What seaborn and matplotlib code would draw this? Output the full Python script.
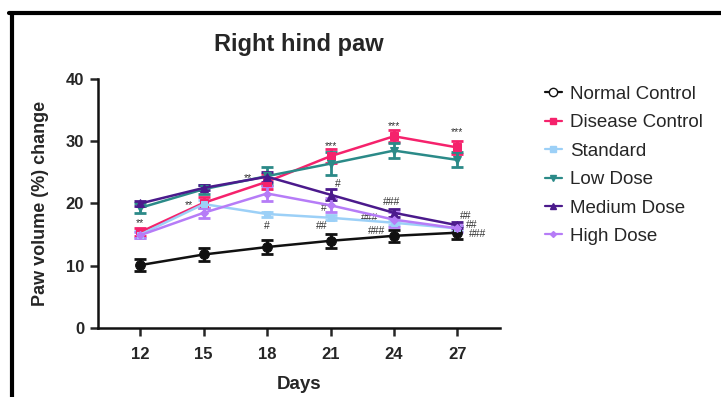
import matplotlib
matplotlib.use("Agg")
import matplotlib.pyplot as plt
import seaborn as sns
import pandas as pd
from matplotlib.lines import Line2D

days = [12, 15, 18, 21, 24, 27]
groups = ["Normal Control", "Disease Control", "Standard", "Low Dose", "Medium Dose", "High Dose"]
normal_control = [10.1, 11.8, 13.0, 14.0, 14.8, 15.3]
disease_control = [15.4, 20.1, 23.5, 27.6, 30.8, 29.0]
standard = [15.0, 19.9, 18.3, 17.7, 16.9, 16.0]
low_dose = [19.3, 22.3, 24.4, 26.4, 28.5, 27.0]
medium_dose = [20.0, 22.5, 24.3, 21.4, 18.5, 16.5]
high_dose = [14.9, 18.5, 21.6, 19.7, 17.4, 16.0]
normal_err = [0.9, 1.1, 1.2, 1.1, 1.0, 1.0]
disease_err = [0.7, 0.9, 1.2, 1.1, 1.0, 1.0]
standard_err = [0.5, 0.6, 0.4, 0.4, 0.4, 0.4]
low_err = [0.8, 0.7, 1.4, 1.8, 1.2, 1.2]
medium_err = [0.4, 0.4, 0.8, 0.9, 0.6, 0.5]
high_err = [0.5, 0.8, 1.2, 1.1, 1.2, 0.6]

colors = ["#111111", "#F5226C", "#9CD0F7", "#2B8A88", "#4B1A8C", "#B67CF7"]
markers = ["o", "s", "s", "v", "^", "D"]
msizes = [7, 6, 5, 6, 6, 4]

values = [normal_control, disease_control, standard, low_dose, medium_dose, high_dose]
errs = [normal_err, disease_err, standard_err, low_err, medium_err, high_err]

rows = []
for g, vals, es in zip(groups, values, errs):
    for d, v, e in zip(days, vals, es):
        rows.append({"Days": d, "Value": v, "Err": e, "Group": g})
df = pd.DataFrame(rows)

sns.set_style("white")
plt.rcParams['font.family'] = ['Liberation Sans', 'DejaVu Sans']

fig = plt.figure(figsize=(7.21, 3.97), dpi=100)
ax = fig.add_axes([0.136, 0.174, 0.557, 0.627])

order = [0, 2, 5, 4, 3, 1]
for i in order:
    g = groups[i]
    sub = df[df["Group"] == g]
    ax.errorbar(sub["Days"], sub["Value"], yerr=sub["Err"], fmt="none",
                ecolor=colors[i], elinewidth=2, capsize=4, capthick=2, zorder=2 + i * 0.1)
    sns.lineplot(data=sub, x="Days", y="Value", color=colors[i], marker=markers[i],
                 markersize=msizes[i], markeredgecolor=colors[i], linewidth=1.8,
                 ax=ax, zorder=3 + i * 0.1, legend=False)

ann = [
    ("**", 12, 16.8), ("**", 14.3, 19.8), ("**", 17.1, 24.0),
    ("***", 21, 29.3), ("***", 24, 32.5), ("***", 27, 31.4),
    ("#", 18, 16.3), ("##", 20.6, 16.4), ("#", 20.7, 19.3), ("#", 21.35, 23.1),
    ("###", 23.9, 20.2), ("###", 22.85, 17.7), ("###", 23.2, 15.6),
    ("##", 27.38, 18.0), ("##", 27.7, 16.5), ("###", 27.95, 15.1),
]
for t, x, y in ann:
    ax.text(x, y, t, ha="center", va="center", fontsize=7.5, color="#333333")

ax.set_xlim(10, 29)
ax.set_ylim(0, 40)
ax.set_xticks(days)
ax.set_yticks([0, 10, 20, 30, 40])
for lab in ax.get_xticklabels() + ax.get_yticklabels():
    lab.set_fontweight("bold")
ax.tick_params(axis="both", direction="out", length=6, width=1.8, labelsize=12,
               bottom=True, left=True)
ax.tick_params(axis="y", pad=4)
ax.tick_params(axis="x", pad=8)
sns.despine(ax=ax)
for sp in ["left", "bottom"]:
    ax.spines[sp].set_linewidth(1.8)
    ax.spines[sp].set_color("#111111")
ax.set_xlabel("Days", fontsize=13.5, fontweight="bold", labelpad=10)
ax.set_ylabel("Paw volume (%) change", fontsize=13, fontweight="bold", labelpad=12)
ax.set_title("Right hind paw", fontsize=17, fontweight="bold", pad=20, x=0.5)

handles = [Line2D([0], [0], color=colors[i], marker=markers[i], markersize=msizes[i] - 1,
                  linewidth=1.6, markerfacecolor=(colors[i] if i != 0 else "white"))
           for i in range(len(groups))]
fig.legend(handles, groups, loc="upper left", bbox_to_anchor=(0.74, 0.812), frameon=False,
           fontsize=13.5, handlelength=0.9, handletextpad=0.45, labelspacing=0.6,
           borderaxespad=0.2)

fig.add_artist(Line2D([0.012, 1.0], [0.967, 0.967], transform=fig.transFigure, color="black", linewidth=3))
fig.add_artist(Line2D([0.016, 0.016], [0.0, 0.967], transform=fig.transFigure, color="black", linewidth=3))

fig.savefig("out.png", dpi=100)
